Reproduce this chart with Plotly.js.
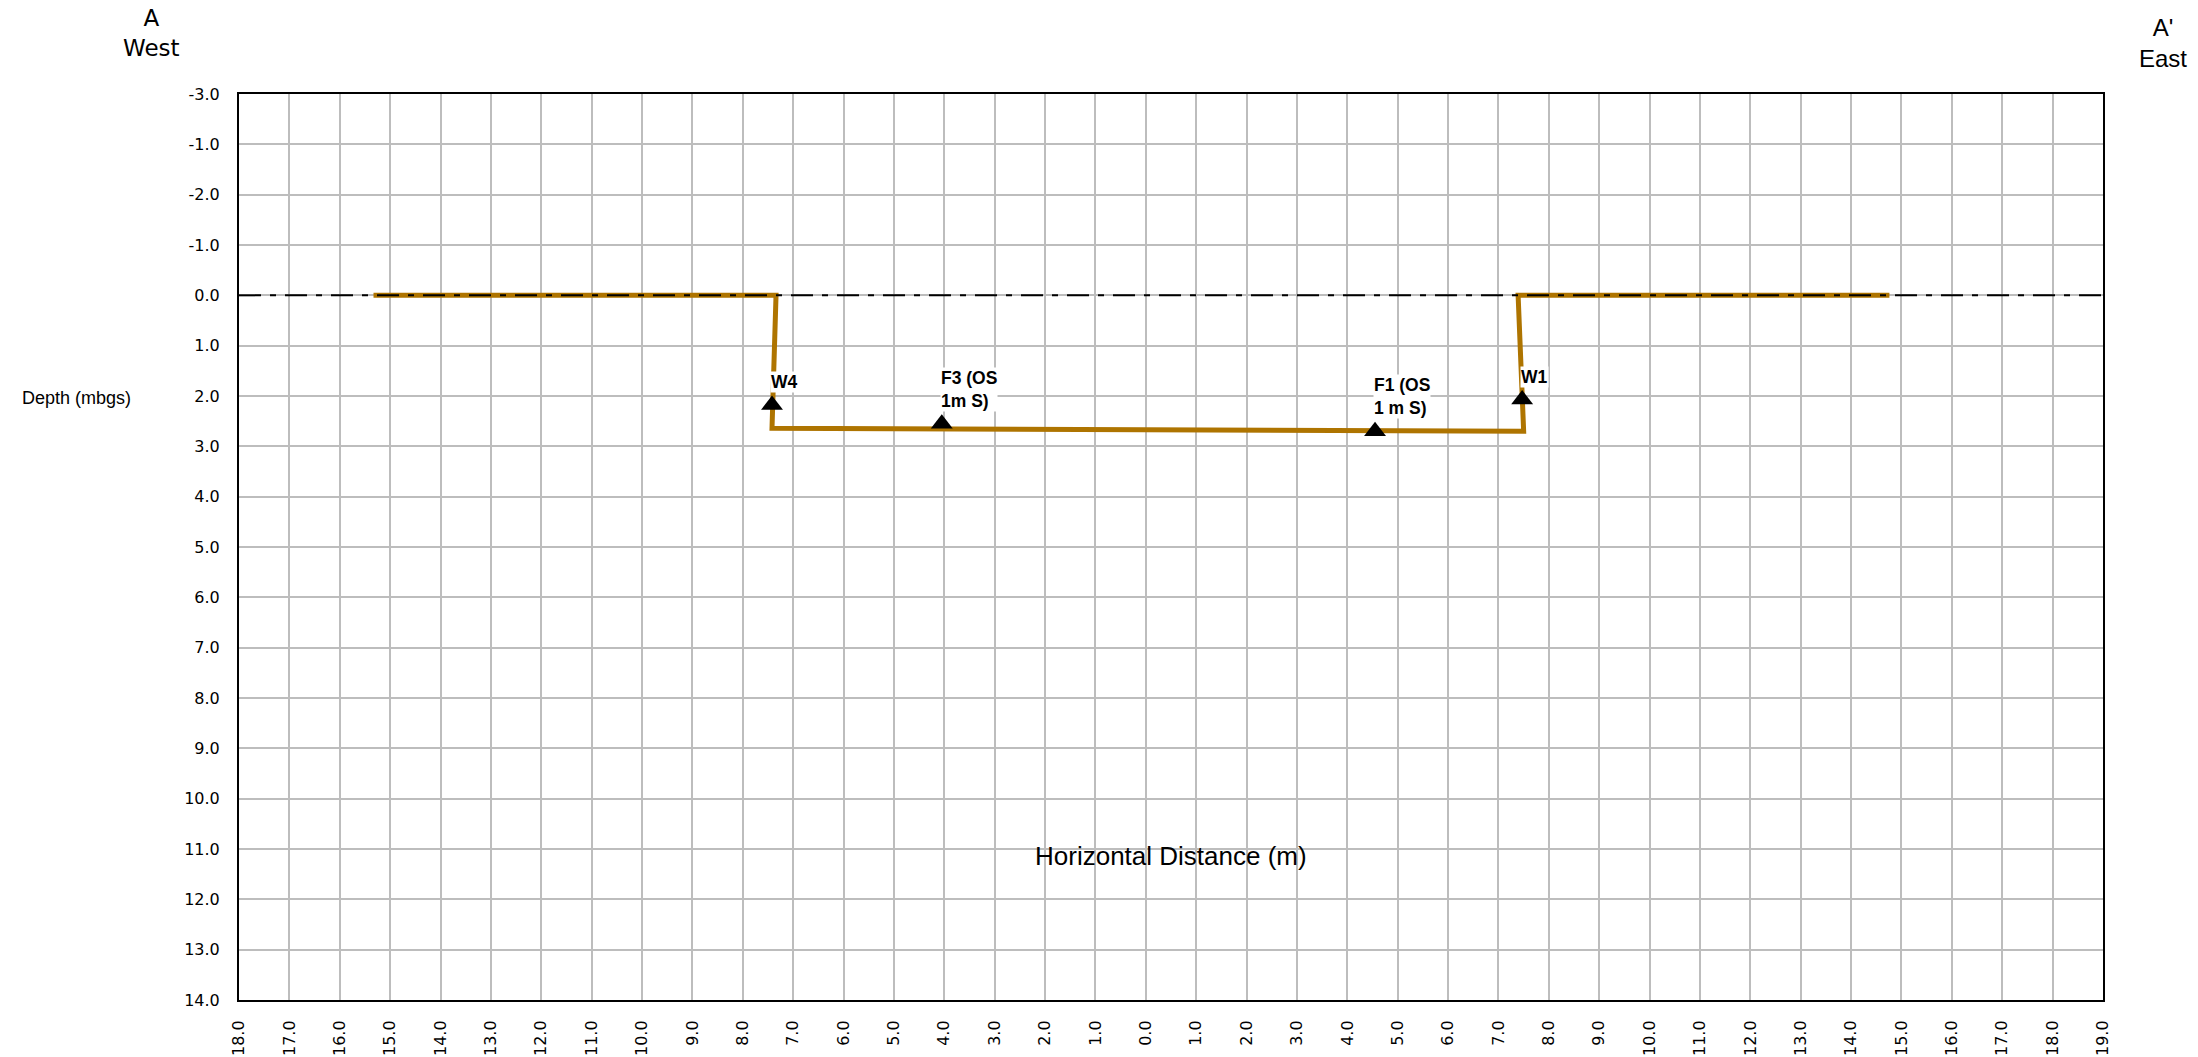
<!DOCTYPE html>
<html>
<head>
<meta charset="utf-8">
<script src="https://cdn.plot.ly/plotly-3.0.1.min.js"></script>
<style>html,body{margin:0;padding:0;background:#fff;}#chart{width:2198px;height:1057px;}</style>
</head>
<body>
<div id="chart"></div>
<script>
// Ground profile (horizontal distance, depth)
const profileX = [-15.33, -7.34, -7.42, 7.50, 7.39, 14.76];
const profileY = [0, 0, 2.64, 2.70, 0, 0];

// Ground surface reference line
const surfaceX = [-18, 19];
const surfaceY = [0, 0];

// Sample points
const pointX = [-7.42, -4.05, 4.55, 7.47];
const pointY = [2.18, 2.55, 2.70, 2.07];
const pointLabels = ['W4', 'F3 (OS<br>1m S)', 'F1 (OS<br>1 m S)', 'W1'];

// Axis ticks
const xTickVals = [-18,-17,-16,-15,-14,-13,-12,-11,-10,-9,-8,-7,-6,-5,-4,-3,-2,-1,0,1,2,3,4,5,6,7,8,9,10,11,12,13,14,15,16,17,18,19];
const xTickText = ['18.0','17.0','16.0','15.0','14.0','13.0','12.0','11.0','10.0','9.0','8.0','7.0','6.0','5.0','4.0','3.0','2.0','1.0','0.0','1.0','2.0','3.0','4.0','5.0','6.0','7.0','8.0','9.0','10.0','11.0','12.0','13.0','14.0','15.0','16.0','17.0','18.0','19.0'];
const yTickVals = [-4,-3,-2,-1,0,1,2,3,4,5,6,7,8,9,10,11,12,13,14];
const yTickText = ['-3.0','-1.0','-2.0','-1.0','0.0','1.0','2.0','3.0','4.0','5.0','6.0','7.0','8.0','9.0','10.0','11.0','12.0','13.0','14.0'];

const traces = [
  {x: profileX, y: profileY, type: 'scatter', mode: 'lines',
   line: {color: '#AE7400', width: 5}, hoverinfo: 'skip'},
  {x: surfaceX, y: surfaceY, type: 'scatter', mode: 'lines',
   line: {color: '#000000', width: 2, dash: '22px,9px,6px,9px'}, hoverinfo: 'skip'},
  {x: pointX, y: pointY, type: 'scatter', mode: 'markers',
   marker: {symbol: 'triangle-up', size: 19, color: '#000000'}, hoverinfo: 'skip'}
];

const annotations = pointLabels.map((t, i) => ({
  x: pointX[i], y: pointY[i], xref: 'x', yref: 'y', text: '<b>' + t + '</b>',
  showarrow: false, xanchor: 'left', yanchor: 'bottom', align: 'left',
  xshift: -2, yshift: 12, bgcolor: '#ffffff', borderpad: 0,
  font: {family: 'Liberation Sans, Arial, sans-serif', size: 17.5, color: '#000'}
}));

annotations.push(
  {xref: 'paper', yref: 'paper', x: -0.0467, y: 1.0673, text: 'A<br>West', showarrow: false,
   xanchor: 'center', yanchor: 'middle', align: 'center',
   font: {family: 'DejaVu Sans, sans-serif', size: 23, color: '#000'}},
  {xref: 'paper', yref: 'paper', x: 1.0322, y: 1.0568, text: "A'<br>East", showarrow: false,
   xanchor: 'center', yanchor: 'middle', align: 'center',
   font: {family: 'Liberation Sans, Arial, sans-serif', size: 24, color: '#000'}},
  {xref: 'paper', yref: 'paper', x: -0.0874, y: 0.6645, text: 'Depth (mbgs)', showarrow: false,
   xanchor: 'center', yanchor: 'middle',
   font: {family: 'Liberation Sans, Arial, sans-serif', size: 18, color: '#000'}},
  {xref: 'paper', yref: 'paper', x: 0.5, y: 0.159, text: 'Horizontal Distance (m)', showarrow: false,
   xanchor: 'center', yanchor: 'middle',
   font: {family: 'Liberation Sans, Arial, sans-serif', size: 26, color: '#000'}}
);

const layout = {
  width: 2198, height: 1057,
  margin: {l: 239, r: 95, t: 94, b: 57, pad: 0},
  paper_bgcolor: '#ffffff', plot_bgcolor: '#ffffff',
  showlegend: false,
  xaxis: {
    range: [-18, 19], tickmode: 'array', tickvals: xTickVals, ticktext: xTickText,
    tickangle: -90, ticks: '', ticklabelstandoff: 12,
    showgrid: true, gridcolor: '#BDBDBD', gridwidth: 2,
    showline: true, linecolor: '#000', linewidth: 2, mirror: true, zeroline: false,
    tickfont: {family: 'DejaVu Sans, sans-serif', size: 16, color: '#000'}
  },
  yaxis: {
    range: [14, -4], tickmode: 'array', tickvals: yTickVals, ticktext: yTickText,
    ticks: '', ticklabelstandoff: 14,
    showgrid: true, gridcolor: '#BDBDBD', gridwidth: 2,
    showline: true, linecolor: '#000', linewidth: 2, mirror: true, zeroline: false,
    tickfont: {family: 'DejaVu Sans, sans-serif', size: 16, color: '#000'}
  },
  annotations: annotations
};

Plotly.newPlot('chart', traces, layout, {displayModeBar: false, staticPlot: true});
</script>
</body>
</html>
